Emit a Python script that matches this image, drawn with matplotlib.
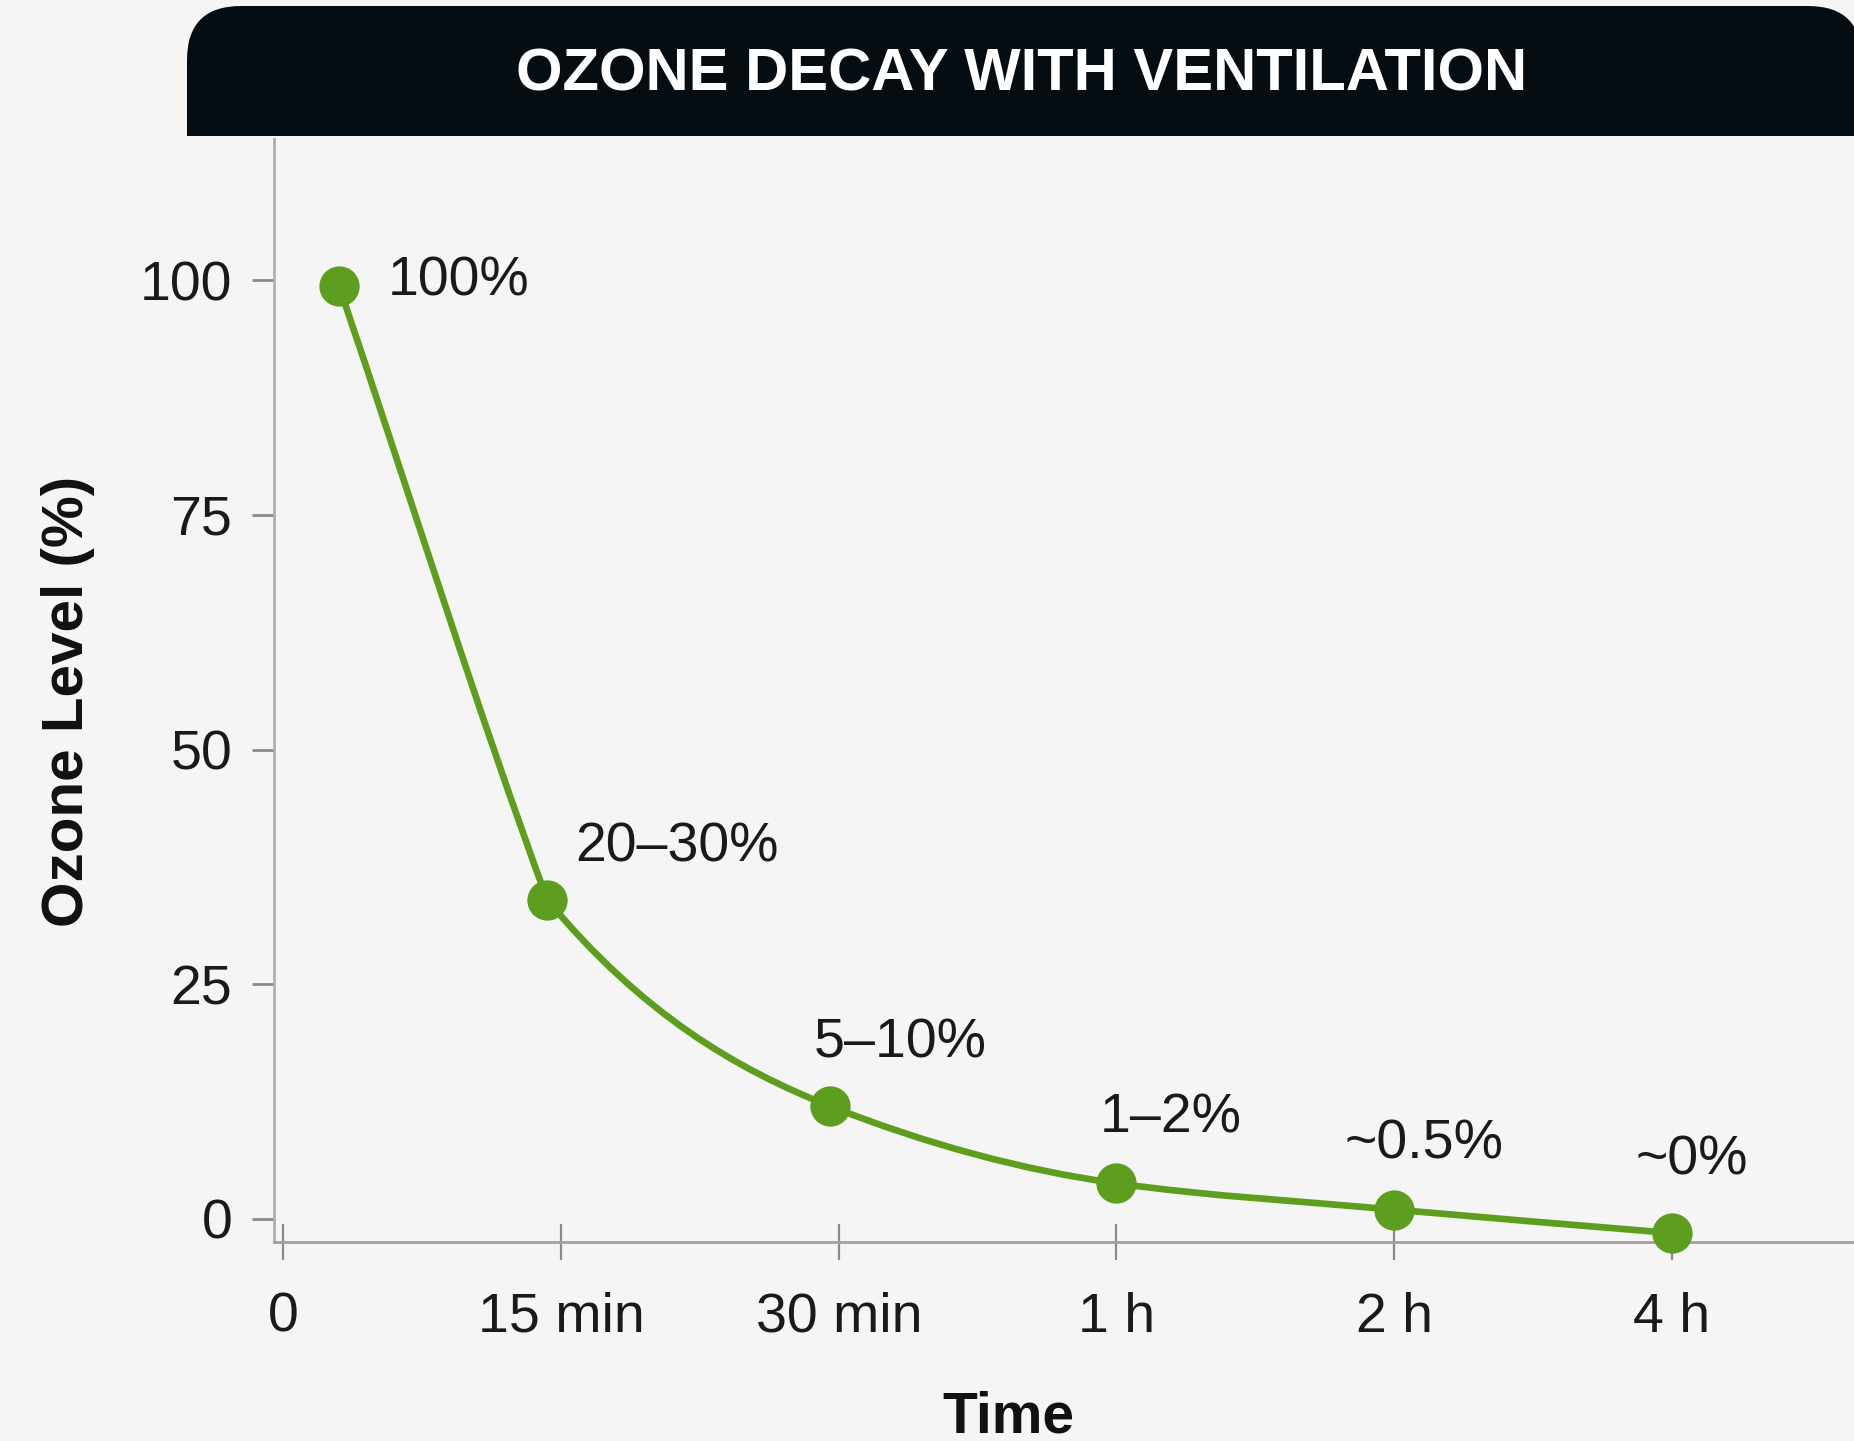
import numpy as np
import matplotlib
matplotlib.use("Agg")
import matplotlib.pyplot as plt
from matplotlib.path import Path
from matplotlib.patches import PathPatch, FancyBboxPatch, Rectangle

# ---- data ----
title = "OZONE DECAY WITH VENTILATION"
tick_labels = ["0", "15 min", "30 min", "1 h", "2 h", "4 h"]
tick_pos = [0, 1, 2, 3, 4, 5]
point_x = [0.2, 0.95, 1.97, 3.0, 4.0, 5.0]
point_y = [99.4, 34, 12, 3.8, 1, -1.5]
point_labels = ["100%", "20–30%", "5–10%", "1–2%", "~0.5%", "~0%"]
yticks = [0, 25, 50, 75, 100]

# ---- style ----
plt.rcParams['font.family'] = ['Liberation Sans', 'DejaVu Sans']
BG = "#f5f5f5"
GREEN = "#5e9e1e"
DARK = "#050c12"
W, H = 1854, 1441
fig = plt.figure(figsize=(W / 100, H / 100), dpi=100, facecolor=BG)

ax_left, ax_right = 274 / W, 1.0
ax_top, ax_bottom = 1 - 139.5 / H, 1 - 1241.5 / H
ax = fig.add_axes([ax_left, ax_bottom, ax_right - ax_left, ax_top - ax_bottom])
ax.set_facecolor(BG)
ax.set_xlim(-0.034, 5.656)
ax.set_ylim(-2.4, 115)

# smooth curve through the points (cubic Bezier segments, PCHIP-like tangents;
# the first drop is drawn nearly straight as in the reference)
x = np.array(point_x, float)
y = np.array(point_y, float)
h = np.diff(x)
d = np.diff(y) / h
m = np.zeros_like(y)
for i in range(1, len(x) - 1):
    if d[i - 1] * d[i] > 0:
        w1 = 2 * h[i] + h[i - 1]
        w2 = h[i] + 2 * h[i - 1]
        m[i] = (w1 + w2) / (w1 / d[i - 1] + w2 / d[i])
m[0] = d[0]
m[-1] = d[-1]
m_left = m.copy()
m_right = m.copy()
m_left[1] = d[0] * 0.92
m_right[0] = d[0] * 1.0
verts = [(x[0], y[0])]
codes = [Path.MOVETO]
for i in range(len(x) - 1):
    verts += [(x[i] + h[i] / 3, y[i] + m_right[i] * h[i] / 3),
              (x[i + 1] - h[i] / 3, y[i + 1] - m_left[i + 1] * h[i] / 3),
              (x[i + 1], y[i + 1])]
    codes += [Path.CURVE4] * 3
ax.add_patch(PathPatch(Path(verts, codes), facecolor="none", edgecolor=GREEN,
                       lw=4.8, capstyle="round", joinstyle="round", zorder=3))
ax.plot(point_x, point_y, linestyle="none", marker="o", markersize=29,
        color=GREEN, markeredgewidth=0, zorder=4, clip_on=False)

offsets = [(35, 3), (20, 38), (-12, 45), (-12, 47), (-36, 47), (-26, 52)]
for px, py, lab, off in zip(point_x, point_y, point_labels, offsets):
    ax.annotate(lab, (px, py), xytext=off, textcoords="offset points",
                ha="left", va="center", fontsize=40, color="#1a1a1a", zorder=5)

# axes styling
for s in ["top", "right"]:
    ax.spines[s].set_visible(False)
ax.spines["left"].set_color("#b0b0b0")
ax.spines["bottom"].set_color("#a0a0a0")
for s in ["left", "bottom"]:
    ax.spines[s].set_linewidth(2)
ax.set_yticks(yticks)
ax.set_yticklabels([str(v) for v in yticks])
ax.set_xticks(tick_pos)
ax.set_xticklabels(tick_labels)
ax.tick_params(axis="y", length=16, width=2, color="#8a8a8a", pad=14,
               labelsize=40, labelcolor="#1a1a1a")
ax.tick_params(axis="x", direction="inout", length=26, width=1.6, color="#8a8a8a",
               pad=23, labelsize=40, labelcolor="#1a1a1a")

ax.set_ylabel("Ozone Level (%)", fontsize=42, fontweight="bold", color="#111111")
ax.yaxis.set_label_coords(-0.113, 0.49)
ax.set_xlabel("Time", fontsize=41, fontweight="bold", color="#111111")
ax.xaxis.set_label_coords(0.465, -0.135)

# title bar
bx0, bx1 = 187 / W, 1.0 + 8 / W
by0, by1 = 1 - 136 / H, 1 - 6 / H
r = 54
fig.patches.append(FancyBboxPatch((bx0, by0), bx1 - bx0, by1 - by0,
                                  boxstyle=f"round,pad=0,rounding_size={r / W}",
                                  transform=fig.transFigure, facecolor=DARK,
                                  edgecolor="none", mutation_aspect=W / H, zorder=10))
fig.patches.append(Rectangle((bx0, by0), bx1 - bx0, (by1 - by0) / 2,
                             transform=fig.transFigure, facecolor=DARK,
                             edgecolor="none", zorder=10))
fig.text(1022 / W, 1 - 75 / H, title, ha="center", va="center", color="white",
         fontsize=43, fontweight="bold", zorder=11)

fig.savefig("out.png", dpi=100, facecolor=BG)
